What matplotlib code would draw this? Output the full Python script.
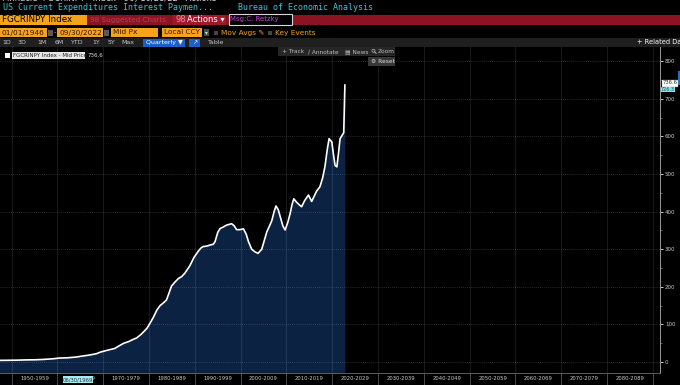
import matplotlib
matplotlib.use("Agg")
import matplotlib.pyplot as plt
from matplotlib.patches import Rectangle, Circle
import numpy as np

# ---------------- data ----------------
years = [1946.0, 1947.5, 1949.0, 1951.0, 1953.0, 1955.0, 1957.0, 1959.0, 1960.5, 1962.0,
         1964.0, 1965.6, 1967.0, 1968.5, 1969.3, 1970.5, 1971.5, 1972.5, 1973.6, 1974.5,
         1975.5, 1976.5, 1977.3, 1978.3, 1979.5, 1980.2, 1980.9, 1981.7, 1982.4, 1983.1,
         1983.8, 1984.4, 1984.9, 1985.6, 1986.4, 1987.1, 1987.8, 1988.9, 1989.8, 1990.7,
         1991.3, 1991.8, 1992.5, 1993.3, 1994.0, 1994.4, 1995.0, 1995.5, 1996.2, 1996.9,
         1997.5, 1998.0, 1998.6, 1999.1, 1999.8, 2000.6, 2001.2, 2001.7, 2002.4, 2003.1,
         2003.8, 2004.6, 2005.2, 2005.7, 2006.3, 2006.8, 2007.3, 2007.7, 2008.2, 2008.6,
         2009.2, 2009.7, 2010.3, 2010.8, 2011.2, 2011.6, 2012.2, 2012.8, 2013.3, 2014.0,
         2014.8, 2015.5, 2016.0, 2016.6, 2017.3, 2017.9, 2018.4, 2018.9, 2019.3, 2019.9,
         2020.3, 2020.6, 2021.0, 2021.4, 2021.7, 2022.0, 2022.25, 2022.5, 2022.75]
values = [4.2, 4.3, 4.5, 4.8, 5.5, 5.8, 6.8, 8.5, 10.5, 11,
          13, 16, 18.5, 22, 26, 30, 33, 36, 44, 50,
          54, 60, 64, 74, 89, 103, 118, 138, 150, 157,
          165, 185, 202, 212, 222, 227, 236, 256, 278, 294,
          303, 307, 308, 311, 313, 320, 345, 355, 359, 364,
          366, 368, 362, 352, 352, 354, 340, 320, 300, 293,
          289, 300, 325, 346, 362, 376, 400, 415, 405, 388,
          362, 351, 372, 395, 418, 434, 425, 418, 413, 430,
          444, 427, 440, 455, 466, 490, 520, 565, 594, 585,
          548, 523, 519, 560, 594, 600, 605, 610, 736.6]

decades = list(range(1950, 2100, 10))
decade_labels = [f"{d}-{d+9}" for d in range(1950, 2090, 10)]
y_ticks = list(range(0, 900, 100))
last_value = "736.6"

# ---------------- figure ----------------
W, H = 680, 385
fig = plt.figure(figsize=(W / 100, H / 100), dpi=100, facecolor="black")

ax = fig.add_axes([0, 12 / H, 660 / W, 326 / H])
ax.set_facecolor("black")
ax.set_xlim(1947.45, 2091.55)
ax.set_ylim(-29.3, 837.8)

ax.fill_between(years, values, -29.3, color="#0b2243", lw=0, zorder=1)
ax.plot(years, values, color="white", lw=1.2, zorder=3, solid_joinstyle="round")

# grids
for d in decades:
    ax.axvline(d, color="white", alpha=0.11, lw=0.7, zorder=2.5)
for v in y_ticks:
    ax.axhline(v, color="white", alpha=0.22, lw=0.6, ls=(0, (1, 1.5)), zorder=2.5)

# axes styling
for s in ["top", "left"]:
    ax.spines[s].set_visible(False)
ax.spines["right"].set_color("#9a9a9a")
ax.spines["right"].set_linewidth(0.7)
ax.spines["bottom"].set_color("#6a6a6a")
ax.spines["bottom"].set_linewidth(0.6)

ax.yaxis.tick_right()
ax.set_yticks(y_ticks)
ax.set_yticklabels([str(v) for v in y_ticks])
ax.set_yticks(np.arange(50, 850, 100), minor=True)
ax.tick_params(axis="y", which="major", colors="#c8c8c8", labelsize=4, length=2.5,
               width=0.7, pad=1, direction="out")
ax.tick_params(axis="y", which="minor", colors="#777777", length=1.5, width=0.5)

ax.set_xticks(decades)
ax.set_xticklabels([""] * len(decades))
ax.set_xticks([d + 5 for d in range(1950, 2090, 10)], minor=True)
ax.set_xticklabels(decade_labels, minor=True)
ax.tick_params(axis="x", which="major", colors="#555555", length=9, width=0.6, direction="out")
ax.tick_params(axis="x", which="minor", length=0, labelsize=3.8, labelcolor="#c8c8c8", pad=2.2)

# ---------------- overlay (terminal UI) ----------------
ov = fig.add_axes([0, 0, 1, 1], zorder=10)
ov.set_xlim(0, W)
ov.set_ylim(H, 0)
ov.axis("off")
ov.patch.set_alpha(0)

def box(x, y, w, h, fc, ec="none", lw=0):
    ov.add_patch(Rectangle((x, y), w, h, facecolor=fc, edgecolor=ec, lw=lw))

def txt(x, y, s, size=5, color="white", ha="left", family="DejaVu Sans", **kw):
    ov.text(x, y, s, fontsize=size, color=color, ha=ha, va="center", family=family, **kw)

# top clipped row
txt(2, -1.5, "Pinnacle  FGCRINPY   Index   96) 10/28/22   Actions", size=6, color="#d8d8d8")

# title row
txt(3, 8, "US Current Expenditures Interest Paymen...", size=6, color="#3cc4d6",
    family="DejaVu Sans Mono")
txt(238, 8, "Bureau of Economic Analysis", size=6, color="#3cc4d6", family="DejaVu Sans Mono")

# red command bar
box(0, 14.5, W, 10.5, "#8c1322")
box(0, 15, 87, 10, "#f7a21b")
txt(2, 20, "FGCRINPY Index", size=6.3, color="black")
txt(90, 20, "98 Suggested Charts", size=5.2, color="#b04451")
box(173, 15, 53, 10, "#a0192b")
txt(175, 20, "98", size=6, color="#d89aa4")
txt(187, 20, "Actions \u25be", size=6, color="white")
box(228.5, 13.5, 63.5, 11, "black", ec="#d8d8d8", lw=0.8)
txt(230.5, 19, "Msg:C. Retzky", size=5, color="#c63ee2")

# date / settings row
orange = "#f7a21b"
dark = "#2a1800"
box(0, 28, 47, 9, orange); txt(2, 32.5, "01/01/1946", size=5.3, color=dark)
box(48, 29.5, 4.5, 6, "#5a5a5a")
txt(53.5, 32.5, "-", size=5, color=orange)
box(57, 28, 46, 9, orange); txt(59, 32.5, "09/30/2022", size=5.3, color=dark)
box(104, 29.5, 4.5, 6, "#5a5a5a")
box(111, 28, 47, 9, orange); txt(113, 32.5, "Mid Px", size=5.3, color=dark)
box(162, 28, 40, 9, orange); txt(164, 32.5, "Local CCY", size=5.3, color=dark)
box(203.5, 29, 5.5, 7, "#4a4a4a"); txt(206.2, 32.5, "\u25be", size=4, color="#dddddd", ha="center")
box(214, 30.5, 4, 4, "#444444")
txt(221, 32.5, "Mov Avgs \u270e", size=5.3, color=orange)
box(268, 30.5, 4, 4, "#444444")
txt(275, 32.5, "Key Events", size=5.3, color=orange)

# period row
box(0, 38, W, 9, "#1f1f1f")
for xc, lab in [(7, "1D"), (22, "3D"), (42, "1M"), (59, "6M"), (77, "YTD"),
                (96, "1Y"), (111, "5Y"), (128, "Max")]:
    txt(xc, 42.5, lab, size=4.5, color="#c8c8c8", ha="center")
box(143, 38.5, 42, 8, "#1d5fc9"); txt(164, 42.5, "Quarterly \u25bc", size=4.5, color="white", ha="center")
box(189, 38.5, 11, 8, "#1d5fc9"); txt(194.5, 42.5, "\u2197", size=4.5, color="white", ha="center")
txt(216, 42.5, "Table", size=4.5, color="#c8c8c8", ha="center")
txt(637, 42.5, "+ Related Dat", size=4.8, color="white")

# legend
box(5, 52.5, 5, 5, "white")
box(12, 52, 73, 7, "#e6e6e6")
txt(13, 55.5, "FGCRINPY Index - Mid Price", size=4, color="#222222")
txt(88, 55.5, last_value, size=4, color="#dddddd")

# chart toolbar
box(278, 47, 117, 9, "#262626")
txt(282, 51.5, "+ Track", size=4.2, color="#bdbdbd")
txt(308, 51.5, "\u2215 Annotate", size=4.2, color="#bdbdbd")
txt(345, 51.5, "\u25a4 News", size=4.2, color="#bdbdbd")
ov.add_patch(Circle((373.5, 50.8), 1.5, facecolor="none", edgecolor="#bdbdbd", lw=0.5))
ov.plot([374.6, 376.2], [51.9, 53.5], color="#bdbdbd", lw=0.6)
txt(378, 51.5, "Zoom", size=4.2, color="#bdbdbd")
box(368, 57, 27, 8.5, "#383838")
txt(371, 61.3, "\u2699 Reset", size=4.2, color="#e0e0e0")

# right value tags
box(678, 71, 2, 14, "#2a6ad0")
box(662, 79.5, 16, 7, "white", ec="#999999", lw=0.3)
txt(670, 83, last_value, size=3.8, color="#333333", ha="center")
box(660.5, 86.5, 14.5, 5.5, "#86e2e6")
txt(667.7, 89.3, "726.3", size=3.5, color="#225555", ha="center")

# cursor label on the x axis
box(63, 376, 30, 7, "#a8e8f0")
txt(78, 379.5, "06/30/1969", size=3.8, color="#1a3a4a", ha="center")

fig.savefig("out.png", dpi=100, facecolor="black")
